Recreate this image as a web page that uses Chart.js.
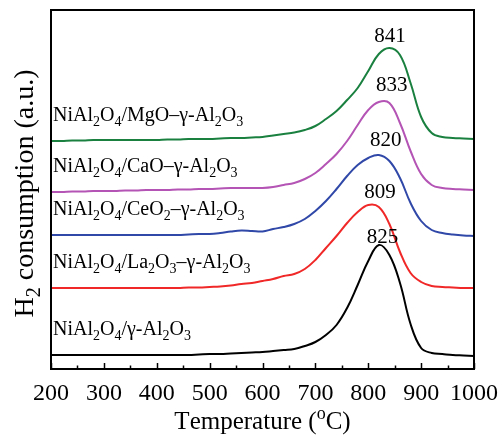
<!DOCTYPE html>
<html>
<head>
<meta charset="utf-8">
<script src="https://cdn.jsdelivr.net/npm/chart.js@4.4.0/dist/chart.umd.min.js"></script>
<style>
  body { margin: 0; background: #fff; }
</style>
</head>
<body>
<canvas id="tprChart" width="503" height="435"></canvas>
<script>
// H2-TPR profiles, every 20 °C (y in arbitrary units)
const temps = [200, 220, 240, 260, 280, 300, 320, 340, 360, 380,
               400, 420, 440, 460, 480, 500, 520, 540, 560, 580,
               600, 620, 640, 660, 680, 700, 720, 740, 760, 780,
               800, 820, 840, 860, 880, 900, 920, 940, 960, 980, 1000];
const vBlack  = [14, 14, 14, 14, 14, 14, 14, 14, 14, 14,
                 14, 14, 14, 14, 14.5, 15, 15, 15.5, 16, 16.5,
                 17, 18, 19, 20, 23, 27, 34, 44, 61, 84,
                 108, 124, 114, 86, 45, 21, 16, 15, 14, 13.5, 13];
const vRed    = [81, 81, 81, 81, 81, 81, 81, 81, 81, 81,
                 81, 81, 81, 81.5, 81.5, 82, 82.5, 83.5, 85, 86,
                 88, 90, 93, 95, 100, 109, 121, 133, 146, 157,
                 164, 162, 145, 117, 96, 87, 83, 82, 81.5, 81, 81];
const vBlue   = [134, 134, 134, 134, 134, 134, 134, 134, 134, 134,
                 134, 134, 134, 134.5, 135, 135, 136, 137.5, 138.5, 138,
                 137.5, 140, 142, 145, 150, 158, 168, 180, 193, 204,
                 211, 214, 208, 191, 166, 148, 139, 136, 134.5, 133.5, 133];
const vPurple = [177, 177, 177.5, 177.5, 178, 178, 178, 178.5, 178.5, 179,
                 179, 179, 179.5, 179.5, 180, 180, 180.5, 181, 181, 181,
                 181, 182, 184, 186, 190, 196, 205, 215, 228, 244,
                 259, 267, 266, 246, 218, 195, 184, 181, 180, 179.5, 179];
const vGreen  = [228, 228, 228.5, 228.5, 229, 229, 229, 229, 229, 229,
                 229, 229.5, 229.5, 230, 230, 230, 230.5, 231, 231, 231.5,
                 232, 233.5, 235, 236.5, 239, 243, 250, 258, 269, 281,
                 298, 315, 321, 314, 286, 252, 236, 232, 231, 230.5, 230];

const seriesNames = [
  'NiAl_2O_4/γ-Al_2O_3',
  'NiAl_2O_4/La_2O_3–γ-Al_2O_3',
  'NiAl_2O_4/CeO_2–γ-Al_2O_3',
  'NiAl_2O_4/CaO–γ-Al_2O_3',
  'NiAl_2O_4/MgO–γ-Al_2O_3'
];
const peakTemps = [825, 809, 820, 833, 841];
const xTicks = [200, 300, 400, 500, 600, 700, 800, 900, 1000];

const colors = ['#000000', '#f02828', '#3048a8', '#b454b4', '#1a8040'];
const peakShift = [[1, 2], [7, 7], [7, 9], [6, 11], [0, 6]]; // label nudges, px

const allV = [vBlack, vRed, vBlue, vPurple, vGreen];

const FONT = '"Liberation Serif", "Times New Roman", serif';

// draw text where _x is a subscript char and ^x a superscript char
function richParts(text) {
  const parts = [];
  for (let i = 0; i < text.length; i++) {
    const c = text[i];
    if ((c === '_' || c === '^') && i + 1 < text.length) {
      parts.push({ s: text[i + 1], mode: c });
      i++;
    } else {
      parts.push({ s: c, mode: '' });
    }
  }
  return parts;
}
function richWidth(ctx, text, size) {
  let w = 0;
  richParts(text).forEach(p => {
    ctx.font = (p.mode ? Math.round(size * 0.7) : size) + 'px ' + FONT;
    w += ctx.measureText(p.s).width;
  });
  return w;
}
function drawRich(ctx, text, x, y, size, align) {
  let cx = x;
  if (align === 'center') cx = x - richWidth(ctx, text, size) / 2;
  ctx.textAlign = 'left';
  ctx.textBaseline = 'alphabetic';
  richParts(text).forEach(p => {
    let dy = 0;
    if (p.mode === '_') dy = size * 0.25;
    if (p.mode === '^') dy = -size * 0.42;
    ctx.font = (p.mode ? Math.round(size * 0.7) : size) + 'px ' + FONT;
    ctx.fillText(p.s, cx, y + dy);
    cx += ctx.measureText(p.s).width;
  });
}

const decorations = {
  id: 'decorations',
  afterDraw(chart) {
    const ctx = chart.ctx;
    const a = chart.chartArea;
    const xs = chart.scales.x;
    const ys = chart.scales.y;
    ctx.save();
    ctx.fillStyle = '#000';
    ctx.strokeStyle = '#000';

    // frame
    ctx.lineWidth = 2;
    ctx.strokeRect(a.left, a.top, a.right - a.left, a.bottom - a.top);

    // inward ticks on the bottom axis
    ctx.lineWidth = 1.5;
    for (let t = 200; t <= 1000; t += 50) {
      const px = Math.round(xs.getPixelForValue(t)) + 0.5;
      const len = t % 100 === 0 ? 6 : 3.5;
      ctx.beginPath();
      ctx.moveTo(px, a.bottom);
      ctx.lineTo(px, a.bottom - len);
      ctx.stroke();
    }

    // series names and peak temperatures
    for (let i = 0; i < seriesNames.length; i++) {
      const y0 = ys.getPixelForValue(allV[i][0]);
      drawRich(ctx, seriesNames[i], a.left + 2, y0 - 20, 20, 'left');
      const vmax = Math.max(...allV[i]);
      const py = ys.getPixelForValue(vmax) - peakShift[i][1];
      const px = xs.getPixelForValue(peakTemps[i]) + peakShift[i][0];
      drawRich(ctx, String(peakTemps[i]), px, py, 21, 'center');
    }

    // axis titles
    drawRich(ctx, 'Temperature (^oC)', (a.left + a.right) / 2, 429, 25, 'center');
    ctx.translate(33, (a.top + a.bottom) / 2 + 4);
    ctx.rotate(-Math.PI / 2);
    drawRich(ctx, 'H_2 consumption (a.u.)', 0, 0, 28, 'center');
    ctx.restore();
  }
};

const datasets = allV.map((vals, i) => ({
  label: seriesNames[i],
  data: temps.map((t, j) => ({ x: t, y: vals[j] })),
  borderColor: colors[i],
  borderWidth: 2,
  pointRadius: 0,
  fill: false,
  tension: 0.4
}));

const ctx = document.getElementById('tprChart').getContext('2d');
const tprChart = new Chart(ctx, {
  type: 'line',
  data: { datasets: datasets },
  options: {
    responsive: false,
    animation: false,
    layout: { padding: { left: 51, right: 29, top: 10, bottom: 0 } },
    plugins: {
      legend: { display: false },
      tooltip: { enabled: false }
    },
    scales: {
      x: {
        type: 'linear',
        min: 200,
        max: 1000,
        afterBuildTicks: (scale) => { scale.ticks = xTicks.map(v => ({ value: v })); },
        afterFit: (scale) => {
          scale.height = 66;
          scale.paddingLeft = 0;
          scale.paddingRight = 0;
        },
        ticks: {
          color: '#000',
          font: { family: FONT, size: 24 },
          padding: 10,
          maxRotation: 0,
          autoSkip: false,
          callback: (v) => String(v)
        },
        grid: { display: false, drawTicks: false },
        border: { display: false }
      },
      y: {
        display: false,
        min: 0,
        max: 359
      }
    }
  },
  plugins: [decorations]
});
</script>
</body>
</html>
